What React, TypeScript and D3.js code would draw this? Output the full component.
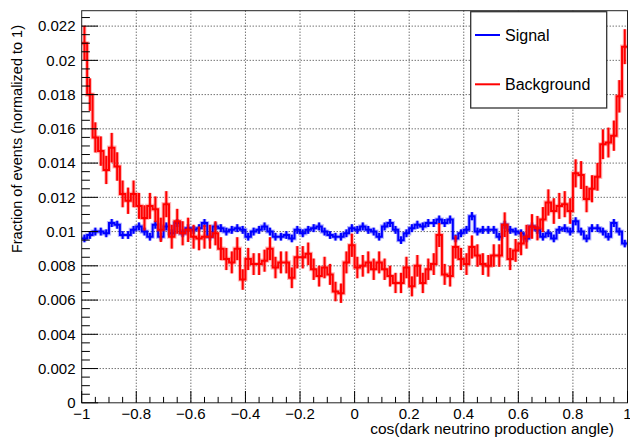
import React from 'react';
import * as d3 from 'd3';

const xMin = -1;
const xMax = 1;
const nBins = 100;

const signal = [
  0.0096, 0.0098, 0.0100, 0.0100, 0.0099, 0.0105, 0.0104, 0.0098, 0.0098, 0.0101,
  0.0103, 0.0100, 0.0097, 0.0104, 0.0097, 0.0103, 0.0099, 0.0105, 0.0099, 0.0102,
  0.0101, 0.0102, 0.0105, 0.0097, 0.0103,
  0.0102, 0.0100, 0.0101, 0.0102, 0.0101, 0.0097, 0.0100, 0.0101, 0.0103, 0.0100,
  0.0097, 0.0097, 0.0098, 0.0096, 0.0101, 0.0099, 0.0101, 0.0102, 0.0103, 0.0100,
  0.0098, 0.0097, 0.0097, 0.0099, 0.0102,
  0.0101, 0.0103, 0.0101, 0.0100, 0.0097, 0.0103, 0.0105, 0.0101, 0.0095, 0.0099,
  0.0102, 0.0104, 0.0103, 0.0105, 0.0105, 0.0107, 0.0105, 0.0107, 0.0096, 0.0099,
  0.0101, 0.0109, 0.0100, 0.0101, 0.0101,
  0.0101, 0.0097, 0.0104, 0.0101, 0.0100, 0.0099, 0.0096, 0.0103, 0.0101, 0.0097,
  0.0099, 0.0096, 0.0101, 0.0102, 0.0100, 0.0106, 0.0100, 0.0096, 0.0102, 0.0102,
  0.0100, 0.0097, 0.0105, 0.0100, 0.0093,
];

const background = [
  0.0210, 0.0180, 0.0155, 0.0147, 0.0136, 0.0149, 0.0138, 0.0122, 0.0118, 0.0122,
  0.0115, 0.0108, 0.0115, 0.0113, 0.0101, 0.0116, 0.0097, 0.0106, 0.0099, 0.0101,
  0.0097, 0.0096, 0.0097, 0.0097, 0.0099,
  0.0090, 0.0084, 0.0082, 0.0090, 0.0072, 0.0084, 0.0081, 0.0081, 0.0083, 0.0090,
  0.0079, 0.0082, 0.0082, 0.0073, 0.0085, 0.0085, 0.0087, 0.0078, 0.0074, 0.0079,
  0.0075, 0.0065, 0.0064, 0.0082, 0.0092,
  0.0079, 0.0080, 0.0082, 0.0078, 0.0082, 0.0078, 0.0074, 0.0070, 0.0070, 0.0079,
  0.0068, 0.0080, 0.0070, 0.0078, 0.0081, 0.0098, 0.0075, 0.0074, 0.0091, 0.0084,
  0.0081, 0.0091, 0.0086, 0.0081, 0.0080,
  0.0086, 0.0086, 0.0104, 0.0084, 0.0089, 0.0093, 0.0097, 0.0103, 0.0102, 0.0107,
  0.0117, 0.0112, 0.0115, 0.0116, 0.0112, 0.0134, 0.0133, 0.0119, 0.0125, 0.0132,
  0.0151, 0.0152, 0.0156, 0.0179, 0.0208,
];

// effective number of entries (for Poisson errors of the normalized histograms)
const signalEntries = 190000;
const backgroundEntries = 20000;

const xTicks = [-1, -0.8, -0.6, -0.4, -0.2, 0, 0.2, 0.4, 0.6, 0.8, 1];
const xTickLabels = ['\u22121', '\u22120.8', '\u22120.6', '\u22120.4', '\u22120.2', '0', '0.2', '0.4', '0.6', '0.8', '1'];
const yTicks = [0, 0.002, 0.004, 0.006, 0.008, 0.01, 0.012, 0.014, 0.016, 0.018, 0.02, 0.022];
const yTickLabels = ['0', '0.002', '0.004', '0.006', '0.008', '0.01', '0.012', '0.014', '0.016', '0.018', '0.02', '0.022'];
const legendLabels = ['Signal', 'Background'];
const xTitle = 'cos(dark neutrino production angle)';
const yTitle = 'Fraction of events (normalized to 1)';

const W = 630;
const H = 438;
const L = 81.7;
const R = 627.5;
const T = 10.7;
const B = 402.8;
const yMax = 0.0229;
const FONT = '"Liberation Sans", Arial, Helvetica, sans-serif';

const x = d3.scaleLinear().domain([xMin, xMax]).range([L, R]);
const y = d3.scaleLinear().domain([0, yMax]).range([B, T]);

function Hist({ values, entries, color }: { values: number[]; entries: number; color: string }) {
  const binW = (xMax - xMin) / nBins;
  const pts: [number, number][] = [];
  values.forEach((v, i) => {
    pts.push([xMin + i * binW, v]);
    pts.push([xMin + (i + 1) * binW, v]);
  });
  const line = d3.line<[number, number]>().x((d) => x(d[0])).y((d) => y(d[1]));
  const d = line(pts) || '';
  const errs = values.map((v, i) => {
    const e = Math.sqrt(v / entries);
    const cx = x(xMin + (i + 0.5) * binW);
    return { cx, y1: y(v - e), y2: y(v + e) };
  });
  return (
    <g>
      <path d={d} fill="none" stroke={color} strokeOpacity={0.28} strokeWidth={4.2} />
      {errs.map((e, i) => (
        <line key={'h' + i} x1={e.cx} x2={e.cx} y1={e.y1} y2={e.y2} stroke={color} strokeOpacity={0.28} strokeWidth={4} />
      ))}
      <path d={d} fill="none" stroke={color} strokeWidth={2} />
      {errs.map((e, i) => (
        <line key={'e' + i} x1={e.cx} x2={e.cx} y1={e.y1} y2={e.y2} stroke={color} strokeWidth={2} />
      ))}
    </g>
  );
}

export default function App() {
  const xMinor = d3.range(-1, 1.0001, 0.05);
  const yMinor = d3.range(0, 0.02251, 0.0005);
  return (
    <svg width={W} height={H} style={{ position: 'absolute', left: 0, top: 0, background: '#fff' }} fontFamily={FONT}>
      <rect x={0} y={0} width={W} height={H} fill="#fff" />
      {/* grid */}
      {xTicks.filter((t) => t > xMin && t < xMax).map((t) => (
        <line key={'gx' + t} x1={x(t)} x2={x(t)} y1={T} y2={B} stroke="#333" strokeWidth={1} strokeDasharray="1,2" />
      ))}
      {yTicks.filter((t) => t > 0).map((t) => (
        <line key={'gy' + t} x1={L} x2={R} y1={y(t)} y2={y(t)} stroke="#333" strokeWidth={1} strokeDasharray="1,2" />
      ))}
      {/* data */}
      <Hist values={signal} entries={signalEntries} color="#0000ff" />
      <Hist values={background} entries={backgroundEntries} color="#ff0000" />
      {/* frame */}
      <rect x={L} y={T} width={R - L} height={B - T} fill="none" stroke="#222" strokeWidth={1} />
      {/* x ticks */}
      {xMinor.map((t, i) => {
        const major = i % 4 === 0;
        return (
          <line key={'xt' + i} x1={x(t)} x2={x(t)} y1={B} y2={B - (major ? 11.8 : 5.9)} stroke="#000" strokeWidth={1} />
        );
      })}
      {yMinor.map((t, i) => {
        const major = i % 4 === 0;
        return (
          <line key={'yt' + i} x1={L} x2={L + (major ? 16.4 : 8.2)} y1={y(t)} y2={y(t)} stroke="#000" strokeWidth={1} />
        );
      })}
      {/* x labels */}
      {xTicks.map((t, i) => (
        <text key={'xl' + i} x={x(t)} y={418.5} textAnchor="middle" fontSize={15} fill="#000">
          {xTickLabels[i]}
        </text>
      ))}
      {yTicks.map((t, i) => (
        <text key={'yl' + i} x={75.5} y={y(t) + 5.3} textAnchor="end" fontSize={15} fill="#000">
          {yTickLabels[i]}
        </text>
      ))}
      <text x={614} y={434} textAnchor="end" fontSize={15.5} fill="#000">
        {xTitle}
      </text>
      <text transform="translate(21.5,25) rotate(-90)" textAnchor="end" fontSize={14.5} fill="#000">
        {yTitle}
      </text>
      {/* legend */}
      <rect x={470.7} y={11.7} width={136} height={96.3} fill="#fff" stroke="#333" strokeWidth={1.3} />
      <line x1={475} x2={500} y1={35} y2={35} stroke="#0000ff" strokeWidth={2} />
      <text x={505} y={40.7} fontSize={16} fill="#000">{legendLabels[0]}</text>
      <line x1={475} x2={500} y1={84.3} y2={84.3} stroke="#ff0000" strokeWidth={2} />
      <text x={505} y={90} fontSize={16} fill="#000">{legendLabels[1]}</text>
    </svg>
  );
}
